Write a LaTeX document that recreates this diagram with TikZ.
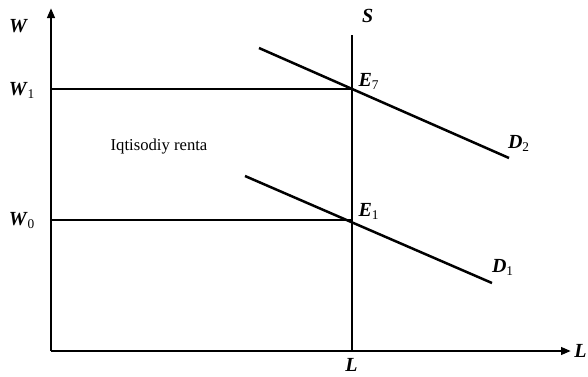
\documentclass[tikz,border=0pt]{standalone}
\usepackage{fontspec}
\setmainfont{Liberation Serif}
\usetikzlibrary{arrows.meta}
\newcommand{\lbl}[2]{\textbf{\textit{#1}}\textsubscript{#2}}
\begin{document}
\begin{tikzpicture}[x=0.6pt, y=-0.6pt, font=\normalsize, line join=round, >={Triangle[length=6pt,width=4.5pt]}, curve/.style={line width=1.5pt}, tag/.style={font=\large}]
\useasboundingbox (0,0) rectangle (588,377);
\path
(51,351) coordinate (O)
(51,8) coordinate (Wtop)
(571,351) coordinate (Lend)
(352,35) coordinate (Stop)
(352,351) coordinate (Sbot)
(51,89) coordinate (W1)
(51,220) coordinate (W0)
(352,89) coordinate (E2)
(352,220) coordinate (E1)
(259,48) coordinate (D2a)
(509,158) coordinate (D2b)
(245,176) coordinate (D1a)
(492,283) coordinate (D1b)
;
\draw[curve,->] (O) -- (Wtop);
\draw[curve,->] (O) -- (Lend);
\draw[curve] (Stop) -- (Sbot);
\draw[curve] (W1) -- (E2) (W0) -- (E1);
\draw[curve] (D2a) -- (D2b) (D1a) -- (D1b);
\node[tag] (lW) at (19,27) {\lbl{W}{}};
\node[tag] (lW1) at (22,90) {\lbl{W}{1}};
\node[tag] (lW0) at (22,221) {\lbl{W}{0}};
\node[tag] (lS) at (368,17) {\lbl{S}{}};
\node[tag] (lE2) at (369,81) {\lbl{E}{7}};
\node[tag] (lE1) at (369,211) {\lbl{E}{1}};
\node[tag] (lD2) at (519,143) {\lbl{D}{2}};
\node[tag] (lD1) at (503,267) {\lbl{D}{1}};
\node[tag] (lL) at (352,366) {\lbl{L}{}};
\node[tag] (lLax) at (581,352) {\lbl{L}{}};
\node (rent) at (159,147) {Iqtisodiy renta};
\end{tikzpicture}
\end{document}
